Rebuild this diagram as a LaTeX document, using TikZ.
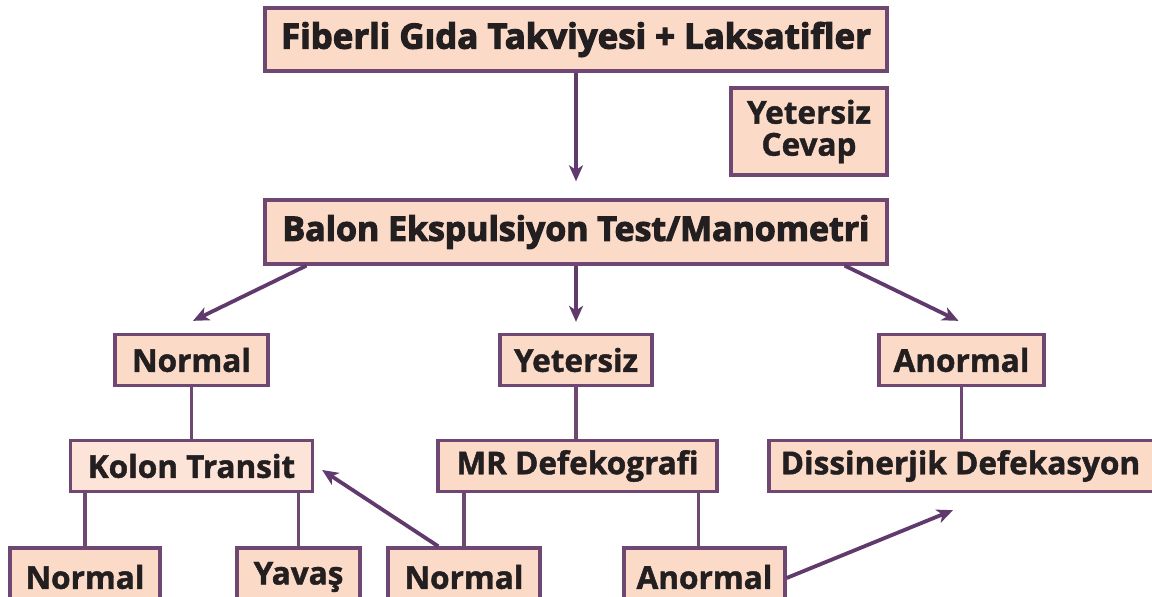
\documentclass[tikz,border=0pt]{standalone}
\usepackage{fontspec}
\usetikzlibrary{arrows.meta,calc}
\newfontfamily\labfont{Open Sans}[BoldFeatures={FakeBold=1.4}]
\newfontfamily\heavyfont{Open Sans}[BoldFeatures={FakeBold=3.2}]
\definecolor{boxfill}{HTML}{FBDBC8}
\definecolor{boxfilllight}{HTML}{FDE4D8}
\definecolor{boxline}{HTML}{6E4773}
\definecolor{arrowcol}{HTML}{603A6C}
\definecolor{txt}{HTML}{231F20}
\newcommand{\fitto}[2]{\raisebox{-3pt}{\resizebox{#1}{!}{#2}}}
\tikzset{
  box/.style={draw=boxline, line width=3.3pt, fill=boxfill, inner sep=0pt,
    text=txt, font=\labfont\bfseries\fontsize{31.5}{36}\selectfont, align=center},
  heavybox/.style={box, font=\heavyfont\bfseries\fontsize{30}{36}\selectfont},
  link/.style={draw=boxline, line width=3.8pt},
  arr/.style={draw=arrowcol, line width=3.8pt,
    -{Stealth[length=16pt,width=14pt,inset=4.5pt]}}
}
\begin{document}
\begin{tikzpicture}[x=1pt,y=-1pt]
\useasboundingbox (0,0) rectangle (1152,597);
\clip (0,0) rectangle (1152,597);
% row 0
\node[heavybox, minimum width=622pt, minimum height=63pt] (top) at (576,39.5) {\fitto{590pt}{Fiberli Gıda Takviyesi + Laksatifler}};
\node[box, minimum width=156pt, minimum height=87pt] (yc) at (809,131.5) {Yetersiz\\[-4pt]Cevap};
\node[heavybox, minimum width=622pt, minimum height=64pt] (balon) at (576,232) {\fitto{587pt}{Balon Ekspulsiyon Test/Manometri}};
% row 1
\node[box, minimum width=153pt, minimum height=51pt] (n1) at (191.5,360) {Normal};
\node[box, minimum width=152pt, minimum height=51pt] (y1) at (576,360) {Yetersiz};
\node[box, minimum width=165pt, minimum height=51pt] (a1) at (961.5,360) {Anormal};
% row 2
\node[box, fill=boxfilllight, minimum width=242pt, minimum height=51pt] (kt) at (191.5,466) {Kolon Transit};
\node[box, minimum width=279pt, minimum height=51pt] (mr) at (577.5,466) {MR Defekografi};
\node[box, minimum width=400pt, minimum height=51pt] (dd) at (969,466) {Dissinerjik Defekasyon\hspace{17pt}};
% row 3
\node[box, minimum width=150pt, minimum height=58pt] (nb1) at (85,577) {Normal};
\node[box, minimum width=123pt, minimum height=58pt] (yv) at (298.5,577) {Yavaş};
\node[box, minimum width=152pt, minimum height=58pt] (nb2) at (464,577) {Normal};
\node[box, minimum width=161pt, minimum height=58pt] (ab) at (704.5,577) {Anormal};
% arrows
\draw[arr] (top.south) -- ($(balon.north)+(0,-17)$);
\draw[arr] ([xshift=43pt]balon.south west) -- ($(n1.north)+(1.5,-12)$);
\draw[arr] (balon.south) -- ($(y1.north)+(0,-11)$);
\draw[arr] ([xshift=-44pt]balon.south east) -- ($(a1.north)+(-3,-12)$);
\draw[arr] ([xshift=52pt]nb2.north west) -- ($(kt.east)+(8,4)$);
\draw[arr] ([yshift=-1pt]ab.east) -- ($(dd.south)+(-16,17)$);
% links
\draw[link] (n1.south) -- (n1.south |- kt.north);
\draw[link] (y1.south) -- (y1.south |- mr.north);
\draw[link] (a1.south) -- (a1.south |- dd.north);
\draw[link] (nb1.north |- kt.south) -- (nb1.north);
\draw[link] (yv.north |- kt.south) -- (yv.north);
\draw[link] (nb2.north |- mr.south) -- (nb2.north);
\draw[link] ([xshift=-6pt]ab.north |- mr.south) -- ([xshift=-6pt]ab.north);
\end{tikzpicture}
\end{document}
